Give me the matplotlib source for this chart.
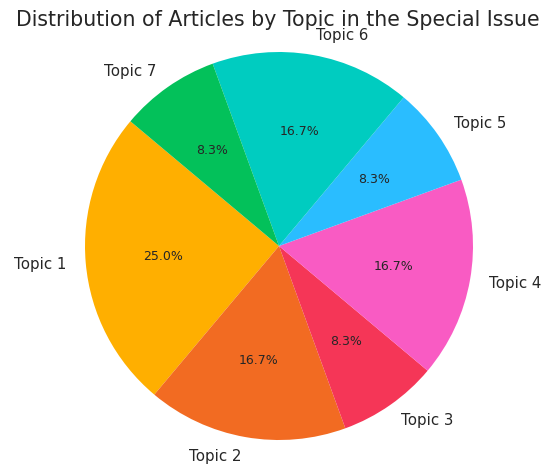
import matplotlib
matplotlib.use("Agg")
import matplotlib.pyplot as plt

labels = ["Topic 1", "Topic 2", "Topic 3", "Topic 4", "Topic 5", "Topic 6", "Topic 7"]
counts = [3, 2, 1, 2, 1, 2, 1]
colors = ["#FFAF00", "#F26B22", "#F53657", "#F95BC3", "#2ABDFF", "#00CCC0", "#03C15A"]
title = "Distribution of Articles by Topic in the Special Issue"

text_color = "#262626"
plt.rcParams["font.family"] = ["DejaVu Sans"]

fig = plt.figure(figsize=(5.5, 4.75), dpi=100)
ax = fig.add_axes([85 / 550, 35 / 475, 388 / 550, 388 / 475])
wedges, texts, autotexts = ax.pie(
    counts, labels=labels, colors=colors, autopct="%1.1f%%", startangle=140,
    textprops={"color": text_color, "fontsize": 10.8},
)
for t in autotexts:
    t.set_fontsize(9)
ax.set_xlim(-1, 1)
ax.set_ylim(-1, 1)
ax.set_aspect("auto")
ax.axis("off")

fig.text(0.505, 1 - 26 / 475, title, ha="center", va="baseline", fontsize=14.8, color=text_color)

fig.savefig("out.png", dpi=100)
